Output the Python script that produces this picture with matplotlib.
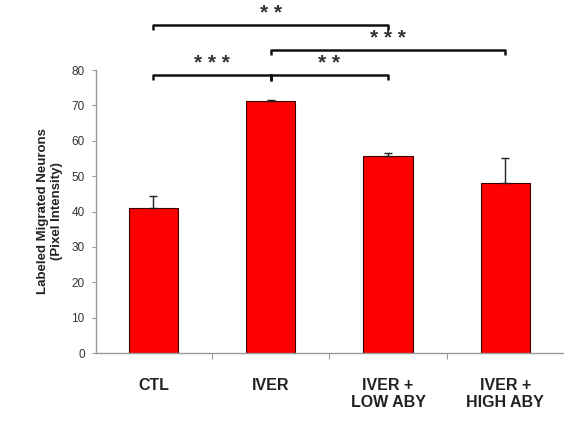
import numpy as np
import matplotlib.pyplot as plt

plt.rcParams['font.family'] = ['Liberation Sans', 'DejaVu Sans']

# data
groups = ['CTL', 'IVER', 'IVER +\nLOW ABY', 'IVER +\nHIGH ABY']
values = [41, 71.2, 55.6, 48]
errors = [3.4, 0.3, 1.0, 7.2]

# significance brackets: (start group, end group, level, label)
brackets = [(0, 2, 92.7, '* *'), (1, 3, 85.6, '* * *'),
            (0, 1, 78.5, '* * *'), (1, 2, 78.5, '* *')]

fig = plt.figure(figsize=(5.64, 4.30), dpi=100)
ax = fig.add_axes([0.170, 0.179, 0.83, 0.658])

x = np.arange(len(groups))
ax.bar(x, values, width=0.42, color='#ff0000', edgecolor='#3a0000', linewidth=0.8, zorder=2)
ax.errorbar(x, values, yerr=[np.zeros(len(errors)), errors], fmt='none',
            ecolor='#222222', elinewidth=1.0, capsize=3, capthick=1.0, zorder=3)

ax.set_xlim(-0.49, 3.5)
ax.set_ylim(0, 80)
ax.set_yticks(np.arange(0, 81, 10))
ax.tick_params(axis='y', direction='out', length=3, color='#999999', labelsize=8.5,
               labelcolor='#333333', pad=5)

# category boundary ticks and centered labels
ax.set_xticks([0.5, 1.5, 2.5])
ax.set_xticklabels([])
ax.tick_params(axis='x', which='major', direction='out', length=4, color='#999999')
ax.set_xticks(x, minor=True)
ax.set_xticklabels(groups, minor=True, fontsize=11.5, fontweight='bold', color='#222222')
ax.tick_params(axis='x', which='minor', length=0, pad=18)

for side in ['top', 'right']:
    ax.spines[side].set_visible(False)
for side in ['left', 'bottom']:
    ax.spines[side].set_color('#999999')
    ax.spines[side].set_linewidth(1.0)

ax.set_ylabel('Labeled Migrated Neurons\n(Pixel Intensity)', fontsize=9.5, fontweight='bold',
              color='#222222', labelpad=6)

# brackets
for a, b, y, lab in brackets:
    ax.plot([a, a, b, b], [y - 1.3, y, y, y - 1.3], color='#111111', lw=1.8,
            clip_on=False, solid_capstyle='butt')
    ax.text((a + b) / 2, y + 0.6, lab, ha='center', va='bottom', fontsize=15,
            fontweight='bold', color='#333333', clip_on=False)
# center tick on lower bracket
ax.plot([1, 1], [78.5 - 1.3, 78.5], color='#111111', lw=1.8, clip_on=False)

fig.savefig('out.png', dpi=100)
